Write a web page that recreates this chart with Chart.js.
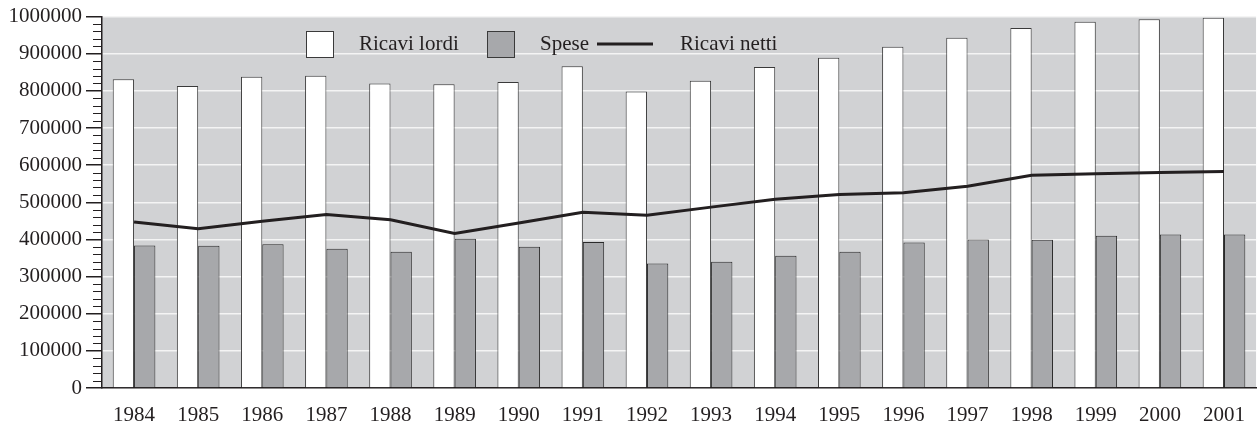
<!DOCTYPE html>
<html>
<head>
<meta charset="utf-8">
<script src="https://cdn.jsdelivr.net/npm/chart.js@4/dist/chart.umd.min.js"></script>
<style>
  body { margin: 0; background: #fff; }
  #wrap { width: 1260px; height: 425px; }
</style>
</head>
<body>
<div id="wrap"><canvas id="chart"></canvas></div>
<script>
const years = ["1984", "1985", "1986", "1987", "1988", "1989", "1990", "1991", "1992",
  "1993", "1994", "1995", "1996", "1997", "1998", "1999", "2000", "2001"];

const ricaviLordi = [831000, 813000, 838000, 841000, 820000, 818000, 824000, 866000, 798000,
  827000, 864000, 889000, 919000, 943000, 969000, 986000, 993000, 997000];

const spese = [384000, 383000, 387000, 375000, 367000, 402000, 380000, 393000, 335000,
  340000, 356000, 367000, 392000, 400000, 399000, 410000, 413000, 413000];

const ricaviNetti = [447000, 429000, 449000, 467000, 453000, 416000, 444000, 473000, 465000,
  487000, 508000, 521000, 526000, 543000, 573000, 577000, 580000, 583000];

const ink = "#231f20";

Chart.defaults.font.family = "'Liberation Serif', 'Times New Roman', serif";
Chart.defaults.font.size = 21;
Chart.defaults.color = ink;

// grey plot background
const plotBg = {
  id: "plotBg",
  beforeDraw(chart) {
    const { ctx, chartArea: a } = chart;
    ctx.save();
    ctx.fillStyle = "#d1d2d4";
    ctx.fillRect(a.left, a.top, a.right - a.left, a.bottom - a.top);
    ctx.restore();
  },
};

// short ticks every 20000 on the y axis
const minorTicks = {
  id: "minorTicks",
  afterDraw(chart) {
    const { ctx, scales } = chart;
    const y = scales.y;
    ctx.save();
    ctx.strokeStyle = ink;
    ctx.lineWidth = 1;
    y.ticks.forEach((t) => {
      if (t.value % 100000 === 0) return;
      const py = Math.round(y.getPixelForValue(t.value)) + 0.5;
      ctx.beginPath();
      ctx.moveTo(y.right - 9, py);
      ctx.lineTo(y.right, py);
      ctx.stroke();
    });
    ctx.restore();
  },
};

// legend drawn inside the plot
const innerLegend = {
  id: "innerLegend",
  afterDraw(chart) {
    const { ctx } = chart;
    const ds = chart.data.datasets;
    ctx.save();
    ctx.font = "21px 'Liberation Serif', 'Times New Roman', serif";
    ctx.textBaseline = "middle";
    ctx.fillStyle = ink;
    const top = 31, h = 26, mid = top + h / 2;

    // bar items
    [[ds[0], 306], [ds[1], 487]].forEach(([d, x]) => {
      ctx.fillStyle = d.backgroundColor;
      ctx.fillRect(x, top, 27, h);
      ctx.strokeStyle = "#3a3a3a";
      ctx.lineWidth = 1;
      ctx.strokeRect(x + 0.5, top + 0.5, 27, h);
      ctx.fillStyle = ink;
      ctx.fillText(d.label, x + 53, mid);
    });

    // line item
    ctx.strokeStyle = ds[2].borderColor;
    ctx.lineWidth = 3;
    ctx.beginPath();
    ctx.moveTo(597, mid);
    ctx.lineTo(653, mid);
    ctx.stroke();
    ctx.fillText(ds[2].label, 680, mid);
    ctx.restore();
  },
};

new Chart(document.getElementById("chart"), {
  type: "bar",
  data: {
    labels: years,
    datasets: [
      {
        label: "Ricavi lordi",
        data: ricaviLordi,
        backgroundColor: "#ffffff",
        borderColor: "#3a3a3a",
        borderWidth: 1,
        categoryPercentage: 0.665,
        barPercentage: 1.0,
        order: 2,
      },
      {
        label: "Spese",
        data: spese,
        backgroundColor: "#a7a8ab",
        borderColor: "#2a2a2a",
        borderWidth: 1,
        categoryPercentage: 0.665,
        barPercentage: 1.0,
        order: 2,
      },
      {
        type: "line",
        label: "Ricavi netti",
        data: ricaviNetti,
        borderColor: ink,
        borderWidth: 3,
        pointRadius: 0,
        tension: 0,
        order: 1,
      },
    ],
  },
  options: {
    responsive: true,
    maintainAspectRatio: false,
    animation: false,
    layout: { padding: { top: 16, right: 0, left: 0, bottom: 0 } },
    plugins: {
      legend: { display: false },
      tooltip: { enabled: false },
    },
    scales: {
      x: {
        grid: { display: false, drawTicks: false },
        border: { display: true, color: ink, width: 1.5 },
        ticks: { padding: 15, color: ink, maxRotation: 0, autoSkip: false },
        afterFit(scale) { scale.height = 37; },
      },
      y: {
        min: 0,
        max: 1000000,
        grid: {
          color: (c) => (c.tick && c.tick.value % 100000 === 0 ? "#f4f4f4" : "rgba(0,0,0,0)"),
          tickColor: (c) => (c.tick && c.tick.value % 100000 === 0 ? ink : "rgba(0,0,0,0)"),
          tickLength: 16,
          lineWidth: 1.5,
        },
        border: { display: true, color: ink, width: 1.5 },
        ticks: {
          stepSize: 20000,
          autoSkip: false,
          padding: 4,
          color: ink,
          callback: (v) => (v % 100000 === 0 ? String(v) : ""),
        },
        afterFit(scale) { scale.width = 102; },
      },
    },
  },
  plugins: [plotBg, minorTicks, innerLegend],
});
</script>
</body>
</html>
